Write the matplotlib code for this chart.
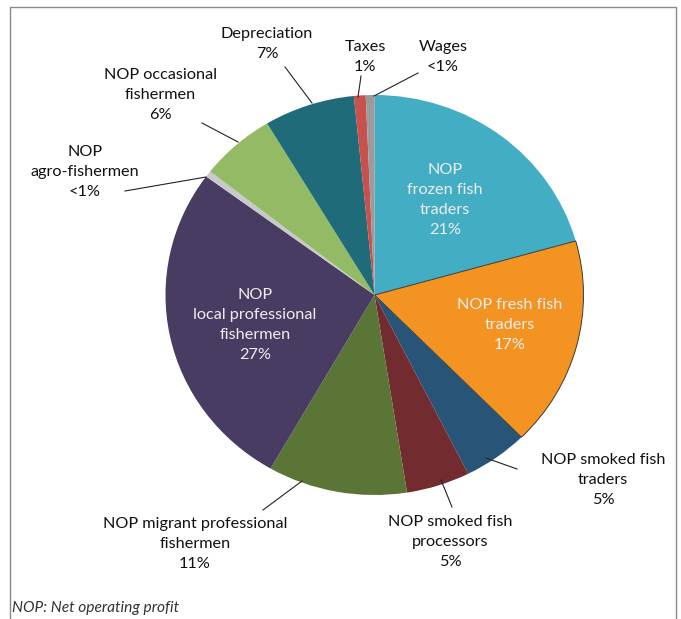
import matplotlib.pyplot as plt
from matplotlib.lines import Line2D

# slice order: clockwise from 12 o'clock
labels = ["NOP\nfrozen fish\ntraders\n21%",
          "NOP fresh fish\ntraders\n17%",
          "NOP smoked fish\ntraders\n5%",
          "NOP smoked fish\nprocessors\n5%",
          "NOP migrant professional\nfishermen\n11%",
          "NOP\nlocal professional\nfishermen\n27%",
          "NOP\nagro-fishermen\n<1%",
          "NOP occasional\nfishermen\n6%",
          "Depreciation\n7%",
          "Taxes\n1%",
          "Wages\n<1%"]
values = [20.6, 16.9, 5.0, 4.9, 10.75, 26.75, 0.5, 5.8, 7.0, 0.9, 0.67]
colors = ["#43adc4", "#f39322", "#285478", "#722b2e", "#5b7537", "#483c62",
          "#c9c9cb", "#93bb66", "#206b7a", "#c8504d", "#9b9b9b"]

# label centre (px, y from top), leader line (from, to) or None, inside?
label_pos = [(445, 200, None, True),
             (510, 325, None, True),
             (603, 480, ((517, 469), (486, 458)), False),
             (450, 542, ((452, 507), (441, 480)), False),
             (195, 544, ((263, 510), (302, 481)), False),
             (255, 325, None, True),
             (85, 172, ((125, 191), (206, 177)), False),
             (160, 95, ((202, 123), (238, 142)), False),
             (267, 44, ((285, 67), (312, 103)), False),
             (365, 57, ((361, 76), (358, 97)), False),
             (443, 57, ((418, 73), (374, 96)), False)]

W, H = 681, 619
fig = plt.figure(figsize=(W / 100, H / 100), dpi=100)

# pie is slightly squashed in the source (rx 209, ry 200)
cx, cy, rx, ry = 374.5, 295, 209, 200
pax = fig.add_axes([(cx - rx) / W, (H - cy - ry) / H, 2 * rx / W, 2 * ry / H])
wedges, _ = pax.pie(values, colors=colors, startangle=90, counterclock=False,
                    wedgeprops=dict(linewidth=0))
wedges[1].set_edgecolor("#3a3a3a")
wedges[1].set_linewidth(0.7)
pax.set_aspect("auto")
pax.set_xlim(-1, 1)
pax.set_ylim(-1, 1)

# overlay in pixel coordinates for labels, leaders and frame
ox = fig.add_axes([0, 0, 1, 1], facecolor="none")
ox.set_xlim(0, W)
ox.set_ylim(H, 0)
ox.axis("off")

font = "Lato"
for lab, (x, y, lead, inside) in zip(labels, label_pos):
    if inside:
        ox.text(x, y, lab, ha="center", va="center", fontsize=11.7, color="#eeeeee",
                family=font, linespacing=1.55)
    else:
        ox.text(x, y, lab, ha="center", va="center", fontsize=11.7, color="#111111",
                family=font, linespacing=1.55)
    if lead is not None:
        (x0, y0), (x1, y1) = lead
        ox.plot([x0, x1], [y0, y1], color="#222222", lw=0.8)

# frame
fig.add_artist(Line2D([9.5 / W, 9.5 / W, 676 / W, 676 / W],
                      [0, 1 - 6.5 / H, 1 - 6.5 / H, 0],
                      transform=fig.transFigure, color="#8a8a8a", lw=1))

ox.text(12, 608, "NOP: Net operating profit", ha="left", va="center",
        fontsize=11.2, style="italic", color="#333333", family=font)

fig.savefig("out.png", dpi=100)
